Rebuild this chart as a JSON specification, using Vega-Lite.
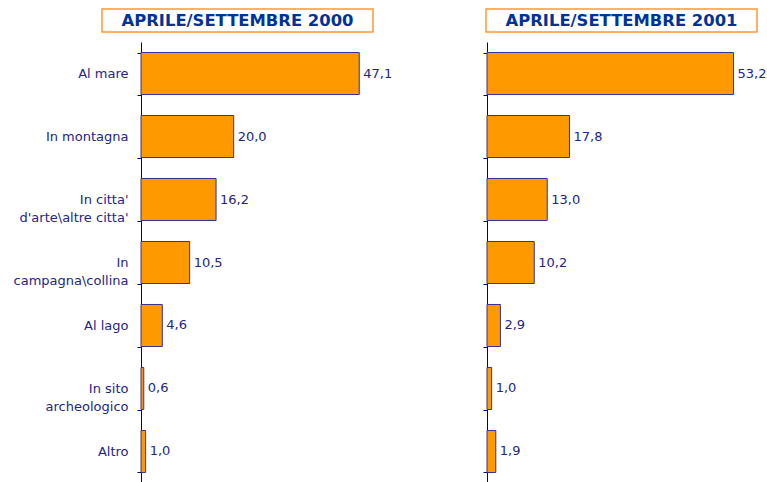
{
  "$schema": "https://vega.github.io/schema/vega-lite/v6.json",
  "padding": {"left": 13, "top": 8, "right": 0, "bottom": 0},
  "background": "white",
  "config": {
    "view": {"stroke": null},
    "font": "DejaVu Sans",
    "locale": {"number": {"decimal": ",", "thousands": ".", "grouping": [3], "currency": ["", "€"]}}
  },
  "datasets": {
    "titoli": [
      {"anno": "2000", "titolo": "APRILE/SETTEMBRE 2000"},
      {"anno": "2001", "titolo": "APRILE/SETTEMBRE 2001"}
    ],
    "valori": [
      {"anno": "2000", "luogo": "Al mare", "quota": 47.1},
      {"anno": "2000", "luogo": "In montagna", "quota": 20.0},
      {"anno": "2000", "luogo": "In citta'\nd'arte\\altre citta'", "quota": 16.2},
      {"anno": "2000", "luogo": "In\ncampagna\\collina", "quota": 10.5},
      {"anno": "2000", "luogo": "Al lago", "quota": 4.6},
      {"anno": "2000", "luogo": "In sito\narcheologico", "quota": 0.6},
      {"anno": "2000", "luogo": "Altro", "quota": 1.0},
      {"anno": "2001", "luogo": "Al mare", "quota": 53.2},
      {"anno": "2001", "luogo": "In montagna", "quota": 17.8},
      {"anno": "2001", "luogo": "In citta'\nd'arte\\altre citta'", "quota": 13.0},
      {"anno": "2001", "luogo": "In\ncampagna\\collina", "quota": 10.2},
      {"anno": "2001", "luogo": "Al lago", "quota": 2.9},
      {"anno": "2001", "luogo": "In sito\narcheologico", "quota": 1.0},
      {"anno": "2001", "luogo": "Altro", "quota": 1.9}
    ]
  },
  "columns": 1,
  "align": "none",
  "spacing": 3,
  "concat": [
    {
      "width": 626,
      "height": 23,
      "data": {"name": "titoli"},
      "encoding": {
        "x": {"field": "anno", "type": "nominal", "axis": null,
              "scale": {"range": [-39, 616], "paddingInner": 0.2943, "paddingOuter": 0}}
      },
      "layer": [
        {"mark": {"type": "rect", "fill": "white", "stroke": "#FF9933", "strokeWidth": 1.5}},
        {"mark": {"type": "text", "font": "DejaVu Sans", "fontWeight": "bold", "fontSize": 16.4, "color": "#003399", "baseline": "middle", "align": "center"},
         "encoding": {"text": {"field": "titolo"}}}
      ]
    },
    {
      "spacing": 21,
      "hconcat": [
        {
          "width": 320,
          "height": 441,
          "data": {"name": "valori"},
          "transform": [{"filter": "datum.anno === '2000'"}],
          "encoding": {
            "y": {
              "field": "luogo", "type": "nominal", "sort": null,
              "scale": {"paddingInner": 0.333, "paddingOuter": 0.1667},
              "axis": {
                "title": null,
                "tickBand": "extent",
                "domainColor": "#000080",
                "tickColor": "#000080",
                "tickSize": 4,
                "labelFont": "DejaVu Sans",
                "labelFontSize": 13,
                "labelColor": "#24248A",
                "labelLineHeight": 18,
                "labelOverlap": false,
                "labelLimit": 300,
                "labelPadding": 9,
                "labelExpr": "!isString(datum.value) ? '' : split(datum.value, '\\n')"
              }
            },
            "x": {"field": "quota", "type": "quantitative", "scale": {"domain": [0, 69.06], "nice": false}, "axis": null}
          },
          "layer": [
            {"mark": {"type": "bar", "color": "#FF9900", "stroke": "#333399", "strokeWidth": 1}},
            {"mark": {"type": "text", "align": "left", "dx": 4, "baseline": "middle", "fontSize": 13, "font": "DejaVu Sans", "color": "#24248A"},
             "encoding": {"text": {"field": "quota", "type": "quantitative", "format": ".1f"}}}
          ]
        },
        {
          "width": 278,
          "height": 441,
          "data": {"name": "valori"},
          "transform": [{"filter": "datum.anno === '2001'"}],
          "encoding": {
            "y": {
              "field": "luogo", "type": "nominal", "sort": null,
              "scale": {"paddingInner": 0.333, "paddingOuter": 0.1667},
              "axis": {
                "title": null,
                "tickBand": "extent",
                "domainColor": "#000080",
                "tickColor": "#000080",
                "tickSize": 4,
                "labels": false
              }
            },
            "x": {"field": "quota", "type": "quantitative", "scale": {"domain": [0, 60], "nice": false}, "axis": null}
          },
          "layer": [
            {"mark": {"type": "bar", "color": "#FF9900", "stroke": "#333399", "strokeWidth": 1}},
            {"mark": {"type": "text", "align": "left", "dx": 4, "baseline": "middle", "fontSize": 13, "font": "DejaVu Sans", "color": "#24248A"},
             "encoding": {"text": {"field": "quota", "type": "quantitative", "format": ".1f"}}}
          ]
        }
      ]
    }
  ]
}
